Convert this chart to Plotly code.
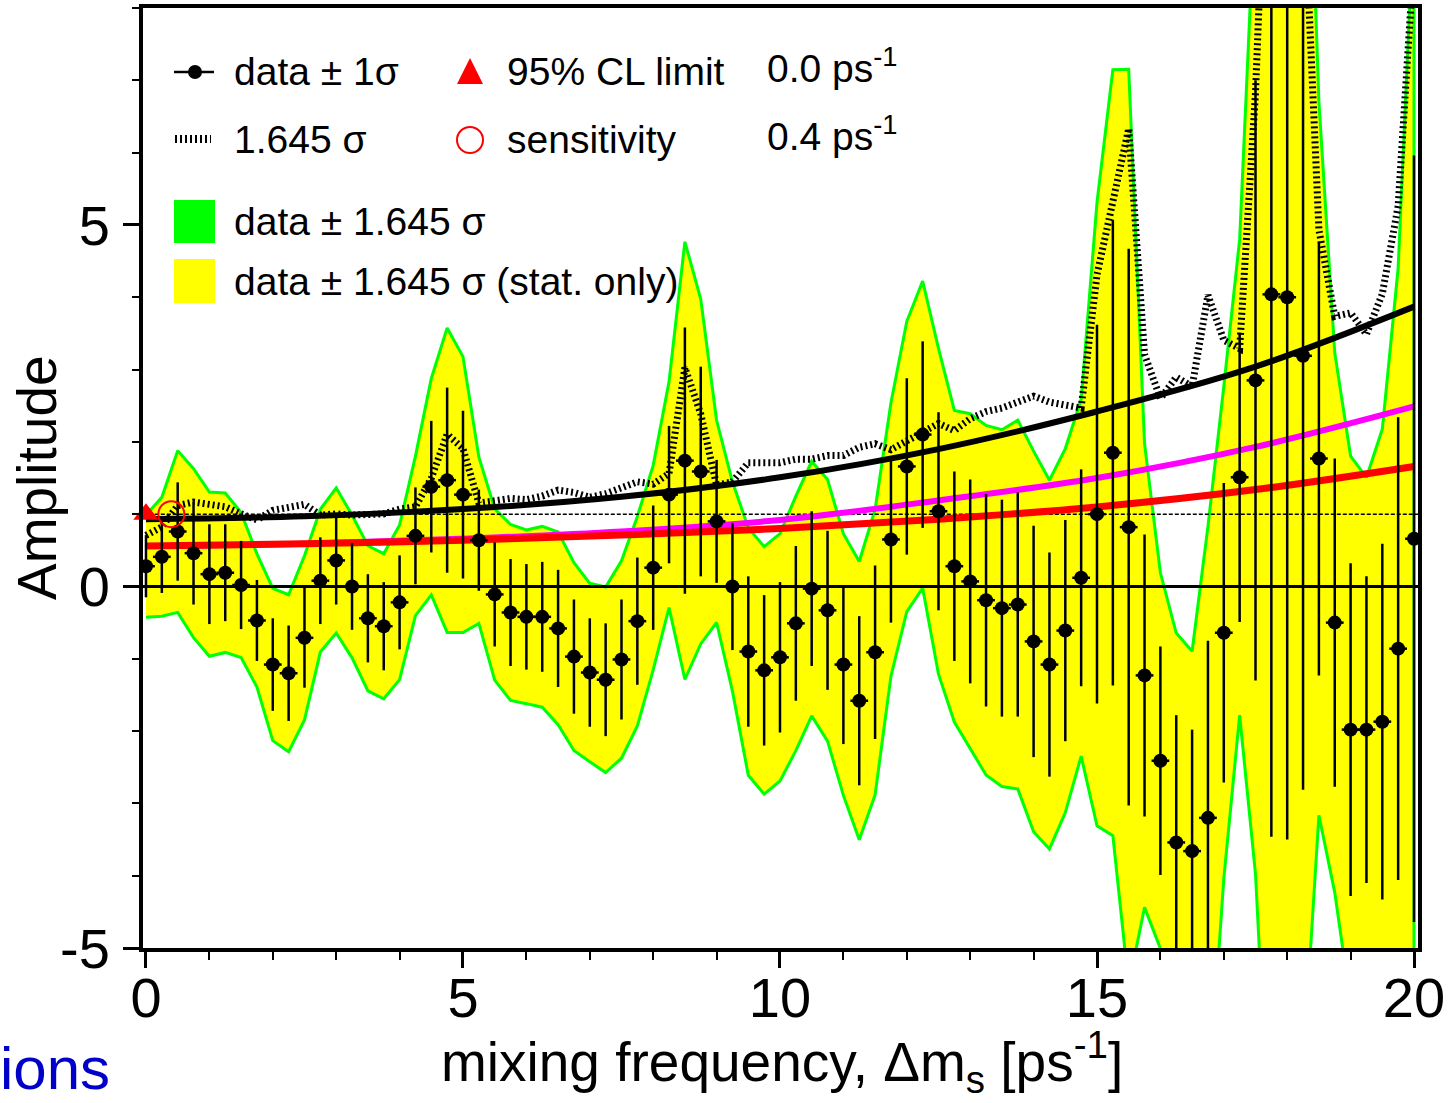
import plotly.graph_objects as go

# ---------------- data ----------------
freq = [0.0, 0.25, 0.5, 0.75, 1.0, 1.25, 1.5, 1.75, 2.0, 2.25, 2.5, 2.75, 3.0, 3.25, 3.5, 3.75,
        4.0, 4.25, 4.5, 4.75, 5.0, 5.25, 5.5, 5.75, 6.0, 6.25, 6.5, 6.75, 7.0, 7.25, 7.5, 7.75,
        8.0, 8.25, 8.5, 8.75, 9.0, 9.25, 9.5, 9.75, 10.0, 10.25, 10.5, 10.75, 11.0, 11.25, 11.5, 11.75,
        12.0, 12.25, 12.5, 12.75, 13.0, 13.25, 13.5, 13.75, 14.0, 14.25, 14.5, 14.75, 15.0, 15.25, 15.5, 15.75,
        16.0, 16.25, 16.5, 16.75, 17.0, 17.25, 17.5, 17.75, 18.0, 18.25, 18.5, 18.75, 19.0, 19.25, 19.5, 19.75,
        20.0]

amplitude = [0.28, 0.41, 0.76, 0.46, 0.17, 0.19, 0.02, -0.47, -1.08, -1.20, -0.71, 0.08, 0.36, 0.00, -0.44, -0.55,
             -0.22, 0.70, 1.38, 1.47, 1.27, 0.64, -0.11, -0.36, -0.42, -0.42, -0.58, -0.97, -1.19, -1.29, -1.01, -0.48,
             0.26, 1.27, 1.74, 1.59, 0.90, 0.00, -0.90, -1.16, -0.98, -0.51, -0.03, -0.33, -1.08, -1.58, -0.91, 0.65,
             1.66, 2.10, 1.04, 0.28, 0.07, -0.19, -0.30, -0.25, -0.76, -1.08, -0.61, 0.12, 1.00, 1.85, 0.82, -1.23,
             -2.41, -3.54, -3.66, -3.20, -0.64, 1.51, 2.85, 4.04, 4.00, 3.19, 1.77, -0.50, -1.98, -1.98, -1.87, -0.86,
             0.66]

sigma = [0.43, 0.50, 0.68, 0.71, 0.69, 0.67, 0.61, 0.56, 0.64, 0.66, 0.69, 0.60, 0.61, 0.60, 0.61, 0.61,
         0.65, 0.67, 0.91, 1.28, 1.16, 0.70, 0.72, 0.74, 0.73, 0.76, 0.81, 0.79, 0.75, 0.78, 0.83, 0.88,
         0.86, 0.95, 1.84, 1.45, 0.85, 0.88, 1.04, 1.04, 1.04, 1.07, 1.07, 1.10, 1.10, 1.17, 1.20, 1.15,
         1.22, 1.29, 1.37, 1.31, 1.41, 1.47, 1.50, 1.55, 1.60, 1.55, 1.53, 1.50, 2.62, 3.22, 3.85, 1.95,
         1.58, 1.76, 1.68, 2.45, 2.07, 2.00, 4.15, 7.50, 7.50, 6.00, 3.00, 2.27, 2.30, 2.12, 2.46, 3.20,
         5.30]

curve_x = [0.0, 2.5, 5.0, 7.5, 10.0, 12.5, 15.0, 17.5, 20.0]
curve_black = [0.93, 0.97, 1.07, 1.24, 1.51, 1.90, 2.42, 3.04, 3.87]
curve_magenta = [0.56, 0.59, 0.66, 0.76, 0.92, 1.19, 1.50, 1.93, 2.49]
curve_red = [0.56, 0.59, 0.64, 0.71, 0.80, 0.93, 1.10, 1.34, 1.66]

limit_x = 0.0      # 95% CL limit [ps^-1]
limit_y = 1.0
sens_x = 0.4       # sensitivity [ps^-1]
sens_y = 1.0

x_ticks = [0, 5, 10, 15, 20]
y_ticks = [-5, 0, 5]
y_ticklabels = ["-5", "0", "5"]

CL_FACTOR = 1.645

legend_col1 = ["data ± 1σ", "1.645 σ", "data ± 1.645 σ", "data ± 1.645 σ (stat. only)"]
legend_col2 = ["95% CL limit", "sensitivity"]
legend_col3 = [f"{limit_x:.1f} ps<sup>-1</sup>", f"{sens_x:.1f} ps<sup>-1</sup>"]

# ---------------- derived ----------------
band_hi = [a + CL_FACTOR * s for a, s in zip(amplitude, sigma)]
band_lo = [a - CL_FACTOR * s for a, s in zip(amplitude, sigma)]
dotted = [CL_FACTOR * s for s in sigma]

FONT = "Liberation Sans, Arial, sans-serif"
L, R, T, B = 143, 30, 8, 155
W, H = 1448, 1103
PW, PH = W - L - R, H - T - B


def px_x(p):
    return (p - L) / PW


def px_y(p):
    return (H - B - p) / PH


fig = go.Figure()

# band (yellow fill with green border)
fig.add_trace(go.Scatter(
    x=freq + freq[::-1], y=band_hi + band_lo[::-1],
    fill="toself", fillcolor="#ffff00", mode="lines",
    line=dict(color="#00ff00", width=3), hoverinfo="skip", showlegend=False))

# reference lines
fig.add_trace(go.Scatter(x=[-0.05, 20.07], y=[0, 0], mode="lines",
                         line=dict(color="black", width=3), showlegend=False, hoverinfo="skip"))
fig.add_trace(go.Scatter(x=[-0.05, 20.07], y=[1, 1], mode="lines",
                         line=dict(color="black", width=1.5, dash="4px,2px"), showlegend=False, hoverinfo="skip"))

# smooth curves
fig.add_trace(go.Scatter(x=curve_x, y=curve_magenta, mode="lines",
                         line=dict(color="#ff00ff", width=6, shape="spline"), showlegend=False))
fig.add_trace(go.Scatter(x=curve_x, y=curve_red, mode="lines",
                         line=dict(color="#ff0000", width=7, shape="spline"), showlegend=False))
fig.add_trace(go.Scatter(x=curve_x, y=curve_black, mode="lines",
                         line=dict(color="black", width=6, shape="spline"), showlegend=False))

# 1.645 sigma dotted
fig.add_trace(go.Scatter(x=freq, y=dotted, mode="lines",
                         line=dict(color="black", width=7, dash="2px,3px"), showlegend=False))

# data points with 1 sigma errors
fig.add_trace(go.Scatter(
    x=freq, y=amplitude, mode="markers",
    marker=dict(color="black", size=14, symbol="circle"),
    error_y=dict(type="data", array=sigma, visible=True, color="black", thickness=2.5, width=0),
    error_x=dict(type="constant", value=0.14, visible=True, color="black", thickness=2.5, width=0),
    showlegend=False))

# limit and sensitivity markers
fig.add_trace(go.Scatter(x=[limit_x], y=[limit_y], mode="markers", cliponaxis=False,
                         marker=dict(symbol="triangle-up", size=22, color="#ff0000"), showlegend=False))
fig.add_trace(go.Scatter(x=[sens_x], y=[sens_y], mode="markers", cliponaxis=False,
                         marker=dict(symbol="circle-open", size=26, color="#ff0000", line=dict(width=2, color="#ff0000")),
                         showlegend=False))

# ---------------- hand-made legend ----------------
shapes = []
row_y = [72, 140, 221, 281]
shapes.append(dict(type="line", xref="paper", yref="paper", x0=px_x(174), x1=px_x(214),
                   y0=px_y(row_y[0]), y1=px_y(row_y[0]), line=dict(color="black", width=2.5)))
shapes.append(dict(type="circle", xref="paper", yref="paper", x0=px_x(188), x1=px_x(202),
                   y0=px_y(row_y[0] + 7), y1=px_y(row_y[0] - 7), fillcolor="black", line=dict(width=0)))
shapes.append(dict(type="line", xref="paper", yref="paper", x0=px_x(175), x1=px_x(211),
                   y0=px_y(row_y[1] - 1), y1=px_y(row_y[1] - 1), line=dict(color="black", width=8, dash="2px,3px")))
shapes.append(dict(type="path", xref="paper", yref="paper",
                   path=f"M {px_x(470)},{px_y(58)} L {px_x(483)},{px_y(84)} L {px_x(457)},{px_y(84)} Z",
                   fillcolor="#ff0000", line=dict(width=0)))
shapes.append(dict(type="circle", xref="paper", yref="paper", x0=px_x(457), x1=px_x(483),
                   y0=px_y(153), y1=px_y(127), line=dict(color="#ff0000", width=2)))
shapes.append(dict(type="rect", xref="paper", yref="paper", x0=px_x(174), x1=px_x(215),
                   y0=px_y(243), y1=px_y(200), fillcolor="#00ff00", line=dict(width=0)))
shapes.append(dict(type="rect", xref="paper", yref="paper", x0=px_x(174), x1=px_x(215),
                   y0=px_y(303), y1=px_y(259), fillcolor="#ffff00", line=dict(width=0)))

annotations = []
LEG_SIZE = 39
for txt, yy in zip(legend_col1, row_y):
    annotations.append(dict(text=txt, xref="paper", yref="paper", x=px_x(232), y=px_y(yy),
                            xanchor="left", yanchor="middle", showarrow=False,
                            font=dict(family=FONT, size=LEG_SIZE, color="black")))
for txt, yy in zip(legend_col2, row_y[:2]):
    annotations.append(dict(text=txt, xref="paper", yref="paper", x=px_x(505), y=px_y(yy),
                            xanchor="left", yanchor="middle", showarrow=False,
                            font=dict(family=FONT, size=LEG_SIZE, color="black")))
for txt, yy in zip(legend_col3, row_y[:2]):
    annotations.append(dict(text=txt, xref="paper", yref="paper", x=px_x(765), y=px_y(yy),
                            xanchor="left", yanchor="middle", showarrow=False, yshift=6,
                            font=dict(family=FONT, size=LEG_SIZE, color="black")))

# axis titles
annotations.append(dict(text="Amplitude", xref="paper", yref="paper", x=px_x(37), y=px_y(478),
                        xanchor="center", yanchor="middle", textangle=-90, showarrow=False,
                        font=dict(family=FONT, size=55, color="black")))
annotations.append(dict(text="mixing frequency, Δm<sub>s</sub> [ps<sup>-1</sup>]", xref="paper", yref="paper",
                        x=px_x(782), y=px_y(1062), xanchor="center", yanchor="middle", showarrow=False,
                        font=dict(family=FONT, size=55, color="black")))
annotations.append(dict(text="ions", xref="paper", yref="paper", x=px_x(112), y=px_y(1104),
                        xanchor="right", yanchor="bottom", showarrow=False,
                        font=dict(family=FONT, size=60, color="#0000c8")))

fig.update_layout(
    template="none",
    width=W, height=H,
    margin=dict(l=L, r=R, t=T, b=B, pad=0),
    paper_bgcolor="white", plot_bgcolor="white",
    font=dict(family=FONT, color="black"),
    showlegend=False,
    shapes=shapes,
    annotations=annotations,
    xaxis=dict(range=[-0.047, 20.063], tickmode="array", tickvals=x_ticks,
               ticks="outside", ticklen=16, tickwidth=3, tickcolor="black",
               minor=dict(tickmode="linear", tick0=0, dtick=1, ticks="outside", ticklen=8,
                          tickwidth=2, tickcolor="black", showgrid=False),
               showline=True, linewidth=4, linecolor="black", mirror=True,
               showgrid=False, zeroline=False, automargin=False, ticklabelstandoff=-18,
               tickfont=dict(family=FONT, size=56, color="black")),
    yaxis=dict(range=[-5.0, 8.0], tickmode="array", tickvals=y_ticks, ticktext=y_ticklabels,
               ticks="outside", ticklen=16, tickwidth=3, tickcolor="black",
               minor=dict(tickmode="linear", tick0=0, dtick=1, ticks="outside", ticklen=7,
                          tickwidth=2, tickcolor="black", showgrid=False),
               showline=True, linewidth=4, linecolor="black", mirror=True,
               showgrid=False, zeroline=False, automargin=False, ticklabelstandoff=2,
               tickfont=dict(family=FONT, size=56, color="black")),
)

fig.write_html("out.html", config={"displayModeBar": False},
               post_script="document.body.style.margin='0';document.body.style.overflow='hidden';")
